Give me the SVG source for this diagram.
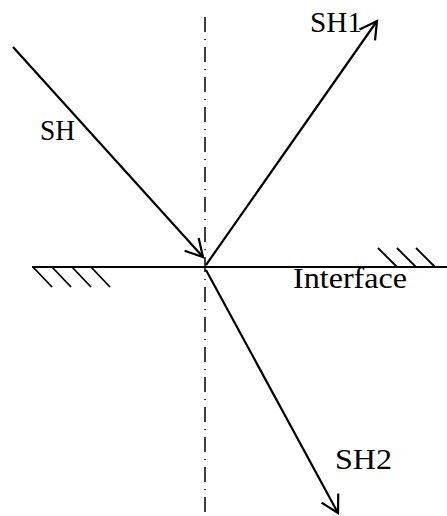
<svg xmlns="http://www.w3.org/2000/svg" width="447" height="516" viewBox="0 0 447 516">
<style>
.ray{stroke:#000;stroke-width:2.2;fill:none}
.hatch{stroke:#000;stroke-width:1.8;fill:none}
.axis{stroke:#000;stroke-width:1.5;stroke-dasharray:15 7 1 7;fill:none}
text{font-family:"Liberation Serif","Times New Roman",serif;font-size:29px;fill:#000}
</style>
<defs>
<marker id="arr" markerUnits="userSpaceOnUse" markerWidth="40" markerHeight="40" viewBox="-20 -20 40 40" refX="0" refY="0" orient="auto" overflow="visible">
<path d="M-17,-9.5 L0,0 L-17,9.5" stroke="#000" stroke-width="2.2" fill="none"/>
</marker>
</defs>
<g id="axis"><line class="axis" x1="205" y1="17" x2="205" y2="516"/></g>
<g id="interface">
<line class="ray" x1="32" y1="267" x2="447" y2="267"/>
<line class="hatch" x1="33" y1="267" x2="52" y2="287"/>
<line class="hatch" x1="52" y1="267" x2="71" y2="287"/>
<line class="hatch" x1="72" y1="267" x2="91" y2="287"/>
<line class="hatch" x1="91" y1="267" x2="110" y2="287"/>
<line class="hatch" x1="378" y1="248" x2="397" y2="267"/>
<line class="hatch" x1="397" y1="248" x2="416" y2="267"/>
<line class="hatch" x1="416" y1="248" x2="435" y2="267"/>
<text x="293" y="288" textLength="114" lengthAdjust="spacingAndGlyphs">Interface</text>
</g>
<g id="connectors">
<line class="ray" x1="13" y1="47" x2="203" y2="257" marker-end="url(#arr)"/>
<line class="ray" x1="206" y1="265" x2="377" y2="21" marker-end="url(#arr)"/>
<line class="ray" x1="206" y1="270" x2="338" y2="513" marker-end="url(#arr)"/>
</g>
<g id="SH"><text x="40" y="140" textLength="35" lengthAdjust="spacingAndGlyphs">SH</text></g>
<g id="SH1"><text x="310" y="32" textLength="52" lengthAdjust="spacingAndGlyphs">SH1</text></g>
<g id="SH2"><text x="335" y="469" textLength="57" lengthAdjust="spacingAndGlyphs">SH2</text></g>
</svg>
